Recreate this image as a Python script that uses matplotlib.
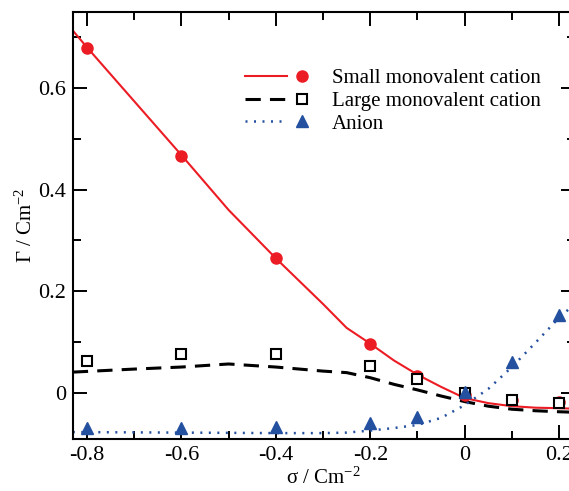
import matplotlib.pyplot as plt
from matplotlib.legend_handler import HandlerTuple
from matplotlib.ticker import MultipleLocator

plt.rcParams['font.family'] = ['Liberation Serif', 'DejaVu Serif']
plt.rcParams['mathtext.default'] = 'regular'

# simulation points
x_pts = [-0.8, -0.6, -0.4, -0.2, -0.1, 0.0, 0.1, 0.2]
small_pts = [0.679, 0.467, 0.266, 0.097, 0.033, -0.004, -0.014, -0.018]
large_pts = [0.063, 0.077, 0.077, 0.053, 0.028, 0.0, -0.014, -0.020]
anion_pts = [-0.069, -0.069, -0.067, -0.059, -0.047, 0.002, 0.061, 0.153]

# theory curves
x_small = [-0.83, -0.8, -0.7, -0.6, -0.5, -0.4, -0.3, -0.25, -0.2, -0.15, -0.1,
           -0.05, 0.0, 0.05, 0.1, 0.15, 0.2, 0.233]
small_line = [0.713, 0.680, 0.574, 0.468, 0.360, 0.265, 0.175, 0.128, 0.097, 0.064, 0.036,
              0.012, -0.010, -0.020, -0.026, -0.029, -0.030, -0.031]
x_large = [-0.83, -0.7, -0.6, -0.5, -0.4, -0.3, -0.25, -0.2, -0.15, -0.1,
           -0.05, 0.0, 0.05, 0.1, 0.15, 0.2, 0.233]
large_line = [0.041, 0.047, 0.051, 0.057, 0.051, 0.043, 0.040, 0.030, 0.017, 0.006,
              -0.006, -0.017, -0.026, -0.032, -0.035, -0.037, -0.038]
x_anion = [-0.83, -0.6, -0.4, -0.3, -0.25, -0.2, -0.15, -0.1, -0.05, 0.0,
           0.05, 0.1, 0.15, 0.2, 0.233]
anion_line = [-0.077, -0.078, -0.079, -0.079, -0.078, -0.074, -0.069, -0.063, -0.049, -0.024,
              0.008, 0.051, 0.099, 0.148, 0.175]

labels = ['Small monovalent cation', 'Large monovalent cation', 'Anion']
xticks = [-0.8, -0.6, -0.4, -0.2, 0.0, 0.2]
xticklabels = ['-0.8', '-0.6', '-0.4', '-0.2', '0', '0.2']
yticks = [0.0, 0.2, 0.4, 0.6]
yticklabels = ['0', '0.2', '0.4', '0.6']

red = '#ec1c24'
blue = '#2450a0'

fig = plt.figure(figsize=(5.69, 4.91), dpi=100)
ax = fig.add_axes([0.128, 0.106, 0.882, 0.870])

l1, = ax.plot(x_small, small_line, color=red, lw=1.5, zorder=2)
l2, = ax.plot(x_large, large_line, color='black', lw=2.2, dashes=(5, 3), zorder=2)
l3, = ax.plot(x_anion, anion_line, color=blue, lw=1.8, dashes=(0.8, 2.6), zorder=2)

m1, = ax.plot(x_pts, small_pts, 'o', color=red, ms=8, ls='none', zorder=3)
m2, = ax.plot(x_pts, large_pts, 's', mfc='white', mec='black', mew=1.5, ms=7, ls='none', zorder=4)
m3, = ax.plot(x_pts, anion_pts, '^', color=blue, ms=8.5, ls='none', zorder=5)

ax.set_xlim(-0.83, 0.233)
ax.set_ylim(-0.0905, 0.75)
ax.xaxis.set_minor_locator(MultipleLocator(0.1))
ax.yaxis.set_minor_locator(MultipleLocator(0.1))
ax.set_xticks(xticks, xticklabels)
ax.set_yticks(yticks, yticklabels)
ax.tick_params(which='both', direction='in', top=True, right=True, width=1.4,
               labelsize=16, pad=5)
ax.tick_params(which='major', length=10)
ax.tick_params(which='minor', length=5.5)
for s in ax.spines.values():
    s.set_linewidth(1.5)

ax.set_xlabel('σ / Cm$^{-2}$', fontsize=15, labelpad=2)
ax.set_ylabel('Γ / Cm$^{-2}$', fontsize=15, labelpad=1)

leg = ax.legend([(l1, m1), (l2, m2), (l3, m3)], labels,
                handler_map={tuple: HandlerTuple(ndivide=None, pad=-0.29)},
                loc='upper left', bbox_to_anchor=(0.305, 0.911), frameon=False,
                fontsize=15, handlelength=3.75, handletextpad=0.43, labelspacing=0.15)

fig.savefig('out.png', dpi=100)
